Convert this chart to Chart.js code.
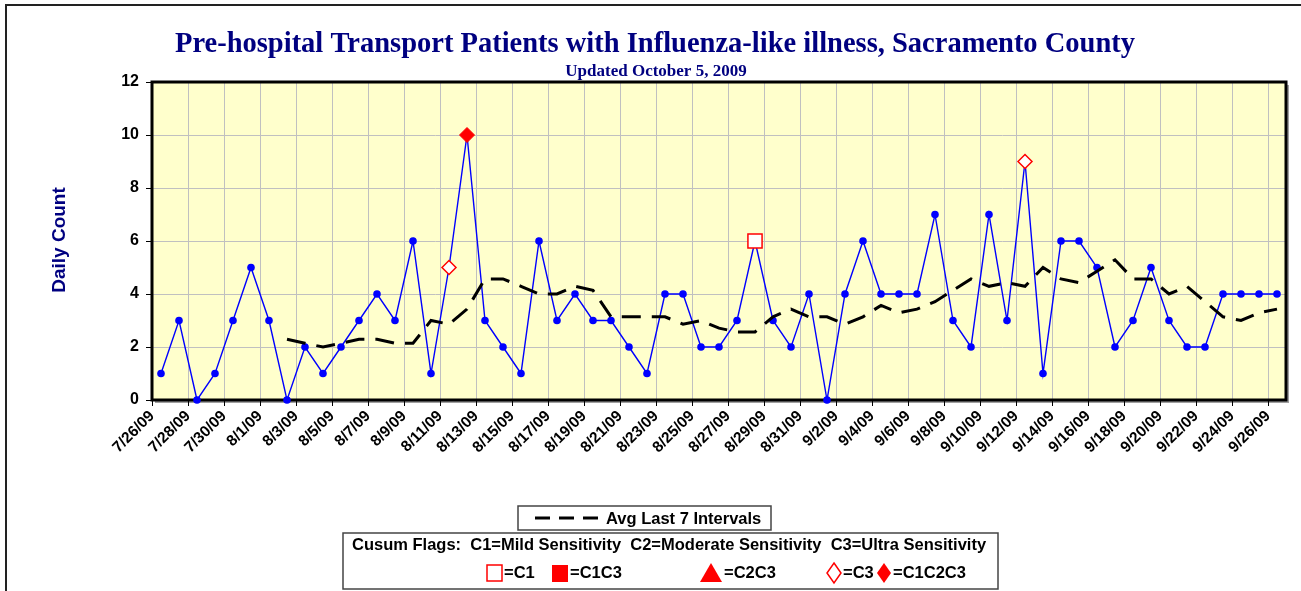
<!DOCTYPE html>
<html>
<head>
<meta charset="utf-8">
<title>Pre-hospital Transport Patients with Influenza-like illness</title>
<script src="https://cdn.jsdelivr.net/npm/chart.js@4/dist/chart.umd.min.js"></script>
<style>
body { margin: 0; background: #fff; }
#wrap { width: 1301px; height: 591px; }
</style>
</head>
<body>
<div id="wrap"><canvas id="ili_chart" width="1301" height="591"></canvas></div>
<script>
var dates = [
	"7/26/09","7/27/09","7/28/09","7/29/09","7/30/09","7/31/09",
	"8/1/09","8/2/09","8/3/09","8/4/09","8/5/09","8/6/09","8/7/09","8/8/09","8/9/09","8/10/09",
	"8/11/09","8/12/09","8/13/09","8/14/09","8/15/09","8/16/09","8/17/09","8/18/09","8/19/09","8/20/09",
	"8/21/09","8/22/09","8/23/09","8/24/09","8/25/09","8/26/09","8/27/09","8/28/09","8/29/09","8/30/09","8/31/09",
	"9/1/09","9/2/09","9/3/09","9/4/09","9/5/09","9/6/09","9/7/09","9/8/09","9/9/09","9/10/09",
	"9/11/09","9/12/09","9/13/09","9/14/09","9/15/09","9/16/09","9/17/09","9/18/09","9/19/09","9/20/09",
	"9/21/09","9/22/09","9/23/09","9/24/09","9/25/09","9/26/09"
];
var dailyCount = [
	1,3,0,1,3,5,
	3,0,2,1,2,3,4,3,6,1,
	5,10,3,2,1,6,3,4,3,3,
	2,1,4,4,2,2,3,6,3,2,4,
	0,4,6,4,4,4,7,3,2,7,
	3,9,1,6,6,5,2,3,5,3,
	2,2,4,4,4,4
];
var avgLast7 = [
	null,null,null,null,null,null,
	null,2.29,2.14,2.00,2.14,2.29,2.29,2.14,2.14,3.00,
	2.86,3.43,4.57,4.57,4.29,4.00,4.00,4.29,4.14,3.14,
	3.14,3.14,3.14,2.86,3.00,2.71,2.57,2.57,3.14,3.43,3.14,
	3.14,2.86,3.14,3.57,3.29,3.43,3.71,4.14,4.57,4.29,
	4.43,4.29,5.00,4.57,4.43,4.86,5.29,4.57,4.57,4.00,
	4.29,3.71,3.14,3.00,3.29,3.43
];
var yTicks = [0, 2, 4, 6, 8, 10, 12];

// cusum flags, by date
var flagC1 = ["8/28/09"];
var flagC1C3 = [];
var flagC2C3 = [];
var flagC3 = ["8/11/09", "9/12/09"];
var flagC1C2C3 = ["8/12/09"];

var RED = "#ff0000";
var NAVY = "#000080";
var SANS = "'Liberation Sans', Arial, sans-serif";
var SERIF = "'Liberation Serif', 'Times New Roman', serif";

function toPoints(series) {
	var pts = [];
	for (var i = 0; i < series.length; i++) {
		pts.push({ x: i + 0.5, y: series[i] });
	}
	return pts;
}

function flagPoints(flagDates) {
	return flagDates.map(function(d) {
		var i = dates.indexOf(d);
		return { x: i + 0.5, y: dailyCount[i] };
	});
}

var allFlags = [].concat(flagC1, flagC1C3, flagC2C3, flagC3, flagC1C2C3);

var data = {
	datasets : [ {
		label : "C1",
		data : flagPoints(flagC1),
		showLine : false,
		pointStyle : "rect",
		pointRadius : 10,
		pointHoverRadius : 10,
		backgroundColor : "#ffffff",
		borderColor : RED,
		borderWidth : 1.5,
		order : 0,
		clip : false
	}, {
		label : "C1C3",
		data : flagPoints(flagC1C3),
		showLine : false,
		pointStyle : "rect",
		pointRadius : 10,
		backgroundColor : RED,
		borderColor : RED,
		order : 0,
		clip : false
	}, {
		label : "C2C3",
		data : flagPoints(flagC2C3),
		showLine : false,
		pointStyle : "triangle",
		pointRadius : 8,
		backgroundColor : RED,
		borderColor : RED,
		order : 0,
		clip : false
	}, {
		label : "C3",
		data : flagPoints(flagC3),
		showLine : false,
		pointStyle : "rectRot",
		pointRadius : 7,
		pointHoverRadius : 7,
		backgroundColor : "#ffffff",
		borderColor : RED,
		borderWidth : 1.5,
		order : 0,
		clip : false
	}, {
		label : "C1C2C3",
		data : flagPoints(flagC1C2C3),
		showLine : false,
		pointStyle : "rectRot",
		pointRadius : 7.5,
		pointHoverRadius : 7.5,
		backgroundColor : RED,
		borderColor : RED,
		borderWidth : 1,
		order : 0,
		clip : false
	}, {
		label : "Avg Last 7 Intervals",
		data : toPoints(avgLast7),
		borderColor : "#000000",
		borderWidth : 3,
		borderDash : [19, 11],
		pointRadius : 0,
		spanGaps : false,
		tension : 0,
		order : 1,
		clip : false
	}, {
		label : "Daily Count",
		data : toPoints(dailyCount),
		borderColor : "#0000ff",
		borderWidth : 1.4,
		backgroundColor : "#0000ff",
		pointBorderWidth : 0,
		pointRadius : function(ctx) {
			return allFlags.indexOf(dates[ctx.dataIndex]) >= 0 ? 0 : 3.8;
		},
		tension : 0,
		order : 2,
		clip : false
	} ]
};

// titles, plot frame and the two legend boxes
var decorations = {
	id : "decorations",
	beforeDraw : function(chart) {
		var ctx = chart.ctx;
		var a = chart.chartArea;
		ctx.save();
		ctx.fillStyle = "#fff";
		ctx.fillRect(0, 0, chart.width, chart.height);
		// outer frame (top and left only show)
		ctx.strokeStyle = "#222";
		ctx.lineWidth = 2;
		ctx.beginPath();
		ctx.moveTo(6, chart.height);
		ctx.lineTo(6, 5);
		ctx.lineTo(chart.width, 5);
		ctx.stroke();
		// plot shadow + background
		ctx.fillStyle = "#a0a0a0";
		ctx.fillRect(a.left + 3, a.top + 3, a.right - a.left, a.bottom - a.top);
		ctx.fillStyle = "#ffffcc";
		ctx.fillRect(a.left, a.top, a.right - a.left, a.bottom - a.top);
		// titles
		ctx.fillStyle = NAVY;
		ctx.textAlign = "center";
		ctx.textBaseline = "alphabetic";
		ctx.font = "bold 28.5px " + SERIF;
		ctx.fillText("Pre-hospital Transport Patients with Influenza-like illness, Sacramento County", 655, 52);
		ctx.font = "bold 17px " + SERIF;
		ctx.fillText("Updated October 5, 2009", 656, 76);
		// y axis title
		ctx.translate(60, 240);
		ctx.rotate(-Math.PI / 2);
		ctx.textBaseline = "middle";
		ctx.font = "bold 19px " + SANS;
		ctx.fillText("Daily Count", 0, 0);
		ctx.restore();
	},
	beforeDatasetsDraw : function(chart) {
		var ctx = chart.ctx;
		var a = chart.chartArea;
		ctx.save();
		ctx.strokeStyle = "#000";
		ctx.lineWidth = 3;
		ctx.strokeRect(a.left, a.top, a.right - a.left, a.bottom - a.top);
		ctx.restore();
	},
	afterDraw : function(chart) {
		var ctx = chart.ctx;
		ctx.save();
		ctx.font = "bold 16.5px " + SANS;
		ctx.textBaseline = "middle";
		ctx.textAlign = "left";

		// legend 1
		ctx.fillStyle = "#fff";
		ctx.fillRect(518, 506, 253, 24);
		ctx.strokeStyle = "#444";
		ctx.lineWidth = 1.5;
		ctx.strokeRect(518, 506, 253, 24);
		ctx.strokeStyle = "#000";
		ctx.lineWidth = 3;
		ctx.setLineDash([15, 9]);
		ctx.beginPath();
		ctx.moveTo(535, 518);
		ctx.lineTo(598, 518);
		ctx.stroke();
		ctx.setLineDash([]);
		ctx.fillStyle = "#000";
		ctx.fillText("Avg Last 7 Intervals", 606, 519);

		// legend 2
		ctx.fillStyle = "#fff";
		ctx.fillRect(343, 533, 655, 56);
		ctx.strokeStyle = "#444";
		ctx.lineWidth = 1.5;
		ctx.strokeRect(343, 533, 655, 56);
		ctx.fillStyle = "#000";
		ctx.fillText("Cusum Flags:  C1=Mild Sensitivity  C2=Moderate Sensitivity  C3=Ultra Sensitivity", 352, 545);

		var y = 573;
		ctx.lineWidth = 1.5;
		ctx.strokeStyle = RED;
		ctx.fillStyle = "#fff";
		ctx.fillRect(487, y - 8, 15, 16);
		ctx.strokeRect(487, y - 8, 15, 16);
		ctx.fillStyle = RED;
		ctx.fillRect(552, y - 8, 16, 17);

		ctx.beginPath();
		ctx.moveTo(711, y - 10);
		ctx.lineTo(722, y + 9);
		ctx.lineTo(700, y + 9);
		ctx.closePath();
		ctx.fill();

		ctx.beginPath();
		ctx.moveTo(834, y - 10);
		ctx.lineTo(841, y);
		ctx.lineTo(834, y + 10);
		ctx.lineTo(827, y);
		ctx.closePath();
		ctx.fillStyle = "#fff";
		ctx.fill();
		ctx.stroke();

		ctx.beginPath();
		ctx.moveTo(884, y - 10);
		ctx.lineTo(891, y);
		ctx.lineTo(884, y + 10);
		ctx.lineTo(877, y);
		ctx.closePath();
		ctx.fillStyle = RED;
		ctx.fill();

		ctx.fillStyle = "#000";
		ctx.fillText("=C1", 504, y);
		ctx.fillText("=C1C3", 570, y);
		ctx.fillText("=C2C3", 724, y);
		ctx.fillText("=C3", 843, y);
		ctx.fillText("=C1C2C3", 893, y);
		ctx.restore();
	}
};

var option = {
	responsive : false,
	animation : false,
	layout : {
		padding : { left : 0, right : 15, top : 82, bottom : 0 }
	},
	plugins : {
		legend : { display : false },
		title : { display : false },
		tooltip : { enabled : false }
	},
	scales : {
		x : {
			type : "linear",
			min : 0,
			max : dates.length,
			afterFit : function(scale) { scale.height = 191; },
			border : { display : false },
			grid : {
				color : "#c0c0c0",
				lineWidth : 1,
				tickColor : "#000",
				tickLength : 6
			},
			ticks : {
				stepSize : 2,
				includeBounds : false,
				autoSkip : false,
				minRotation : 45,
				maxRotation : 45,
				padding : 1,
				color : "#000",
				font : { family : SANS, size : 15.5, weight : "bold" },
				callback : function(value) { return dates[value] || ""; }
			}
		},
		y : {
			min : 0,
			max : 12,
			afterFit : function(scale) { scale.width = 152; },
			afterBuildTicks : function(scale) {
				scale.ticks = yTicks.map(function(v) { return { value : v }; });
			},
			border : { display : false },
			grid : {
				color : "#c0c0c0",
				lineWidth : 1,
				tickColor : "#000",
				tickLength : 6
			},
			ticks : {
				padding : 7,
				color : "#000",
				font : { family : SANS, size : 16, weight : "bold" }
			}
		}
	}
};

var iliChart = new Chart("ili_chart", {
	type : "line",
	data : data,
	options : option,
	plugins : [ decorations ]
});
</script>
</body>
</html>
